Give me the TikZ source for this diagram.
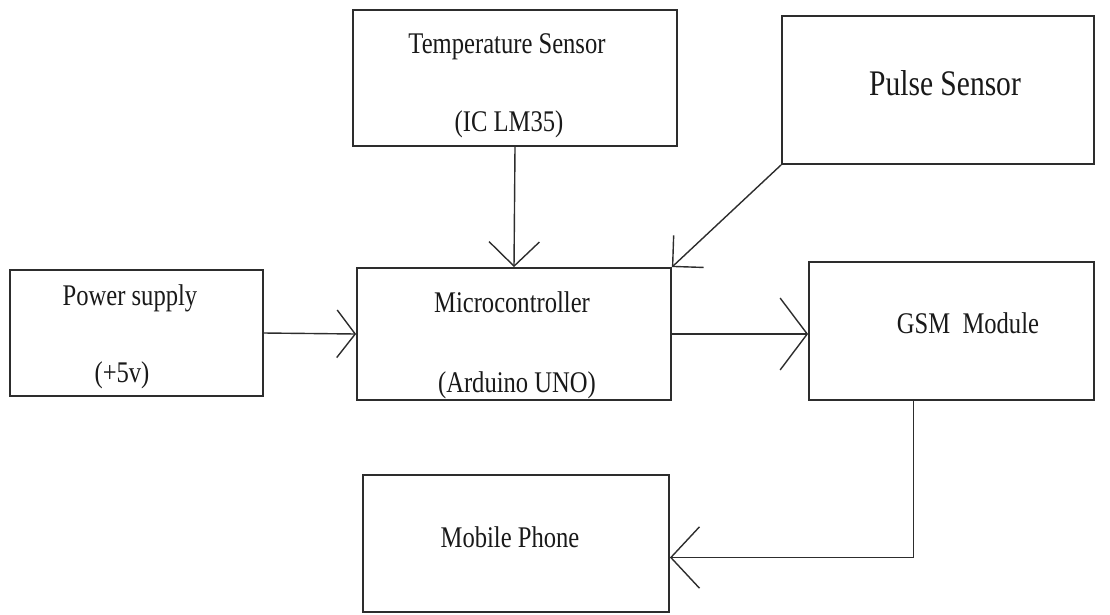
\documentclass[tikz,border=0pt]{standalone}
\usepackage{fontspec}
\setmainfont{Liberation Serif}[FakeStretch=0.82]
\usetikzlibrary{arrows.meta}

\begin{document}
\begin{tikzpicture}[x=1pt, y=-1pt, every node/.style={font=\fontsize{30}{36}\selectfont}]
		% Define colors
		\definecolor{boxline}{RGB}{45, 45, 45}
		\definecolor{txt}{RGB}{25, 25, 25}

		% Styles
		\tikzstyle{block} = [draw=boxline, line width=1.8pt, inner sep=0pt]
		\tikzstyle{label_txt} = [anchor=base, text=txt, inner sep=0pt]
		\tikzstyle{flow} = [draw=boxline, line width=1.4pt]

		% Canvas
		\useasboundingbox (0,0) rectangle (1110,614);

		% Blocks
		\node[block, minimum width=324pt, minimum height=136pt] (temp) at (515, 78) {};
		\node[block, minimum width=312pt, minimum height=148pt] (pulse) at (938, 90) {};
		\node[block, minimum width=253pt, minimum height=126pt] (power) at (136.5, 333) {};
		\node[block, minimum width=314pt, minimum height=132pt] (micro) at (514, 334) {};
		\node[block, minimum width=285pt, minimum height=138pt] (gsm) at (951.5, 331) {};
		\node[block, minimum width=306pt, minimum height=137pt] (mobile) at (516, 543.5) {};

		% Texts
		\node[label_txt] (temp_l1) at (507, 53) {Temperature Sensor};
		\node[label_txt] (temp_l2) at (509, 131) {(IC LM35)};
		\node[label_txt, font=\fontsize{36}{42}\selectfont] (pulse_l1) at (945, 95) {Pulse Sensor};
		\node[label_txt] (power_l1) at (130, 305) {Power supply};
		\node[label_txt] (power_l2) at (122, 382) {(+5v)};
		\node[label_txt] (micro_l1) at (512, 312) {Microcontroller};
		\node[label_txt] (micro_l2) at (517, 392) {(Arduino UNO)};
		\node[label_txt] (gsm_l1) at (968, 333) {GSM\ \ Module};
		\node[label_txt] (mobile_l1) at (510, 547) {Mobile Phone};

		% Connectors
		\draw[flow, -{Straight Barb[angle=105:30pt]}] (power.east) -- (micro.west);
		\draw[flow, -{Straight Barb[angle=92:35pt]}] (temp.south) -- (micro.north);
		\draw[flow, -{Straight Barb[angle=90:31pt]}] (pulse.south west) -- (micro.north east);
		\draw[flow, -{Straight Barb[angle=106:45pt]}] (micro.east) -- (micro.east -| gsm.west);
		\draw[flow, -{Straight Barb[angle=94:42pt]}] ([xshift=-38pt]gsm.south) |- ([yshift=-14pt]mobile.east);

	\end{tikzpicture}
\end{document}
